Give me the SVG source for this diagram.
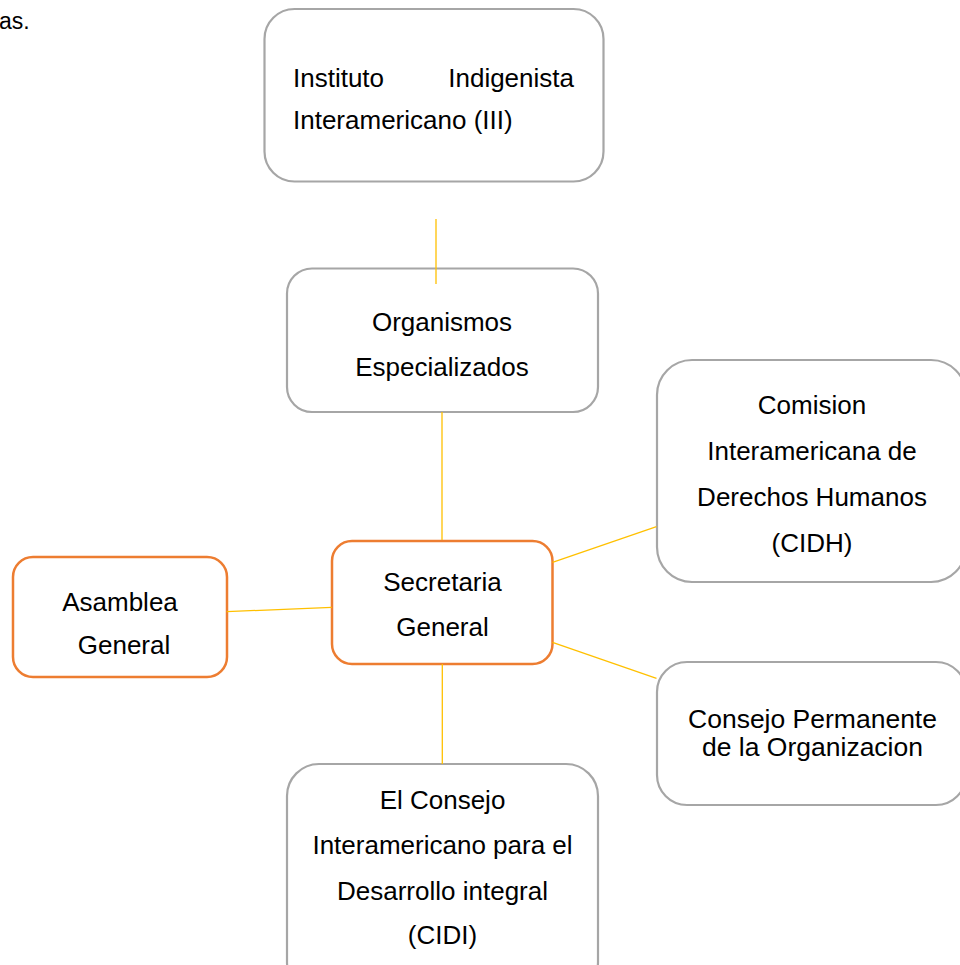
<svg xmlns="http://www.w3.org/2000/svg" width="960" height="965" viewBox="0 0 960 965">
<style>
  .gray { fill: #ffffff; stroke: #a6a6a6; stroke-width: 2.2; }
  .orange { fill: #ffffff; stroke: #ed7d31; stroke-width: 2.5; }
  .t { font-family: "Liberation Sans", Arial, sans-serif; font-size: 26px; fill: #000000; }
  .c { text-anchor: middle; }
  .conn line { stroke: #ffc000; stroke-width: 1.3; }
</style>
<rect width="960" height="965" fill="#ffffff"/>
<text class="t" x="-1" y="29" style="font-size:23px">as.</text>

<g id="instituto">
  <rect class="gray" x="264.5" y="9" width="339" height="172.5" rx="30"/>
  <text class="t" x="293" y="86.5">Instituto</text>
  <text class="t" x="574" y="86.5" text-anchor="end">Indigenista</text>
  <text class="t" x="293" y="128.5">Interamericano (III)</text>
</g>

<g id="organismos">
  <rect class="gray" x="287" y="268.5" width="311" height="143.5" rx="25"/>
  <text class="t c" x="442" y="330.5">Organismos</text>
  <text class="t c" x="442" y="376">Especializados</text>
</g>

<g id="comision">
  <rect class="gray" x="657" y="360" width="309" height="222" rx="35"/>
  <text class="t c" x="812" y="413.5">Comision</text>
  <text class="t c" x="812" y="460">Interamericana de</text>
  <text class="t c" x="812" y="506">Derechos Humanos</text>
  <text class="t c" x="812" y="551.5">(CIDH)</text>
</g>

<g id="asamblea">
  <rect class="orange" x="13" y="557" width="214" height="120" rx="20"/>
  <text class="t c" x="120" y="610.5">Asamblea</text>
  <text class="t c" x="124" y="653.5">General</text>
</g>

<g id="secretaria">
  <rect class="orange" x="332" y="541" width="220.5" height="123" rx="20"/>
  <text class="t c" x="442.5" y="590.5">Secretaria</text>
  <text class="t c" x="442.5" y="636">General</text>
</g>

<g id="consejo">
  <rect class="gray" x="657" y="662" width="309" height="143" rx="30"/>
  <text class="t c" x="812.5" y="727.5" style="font-size:26.5px">Consejo Permanente</text>
  <text class="t c" x="812.5" y="756" style="font-size:26.5px">de la Organizacion</text>
</g>

<g id="cidi">
  <rect class="gray" x="287" y="764" width="311" height="230" rx="32"/>
  <text class="t c" x="442.5" y="808.5">El Consejo</text>
  <text class="t c" x="442.5" y="854">Interamericano para el</text>
  <text class="t c" x="442.5" y="899.5">Desarrollo integral</text>
  <text class="t c" x="442.5" y="944">(CIDI)</text>
</g>

<g id="connectors" class="conn">
  <line x1="436" y1="219" x2="436" y2="284"/>
  <line x1="442" y1="412" x2="442" y2="540"/>
  <line x1="552.5" y1="562.3" x2="656.5" y2="526.7"/>
  <line x1="552.5" y1="642.3" x2="656.5" y2="678.3"/>
  <line x1="331.7" y1="607.3" x2="226.7" y2="611.7"/>
  <line x1="442.3" y1="664" x2="442.3" y2="764"/>
</g>
</svg>
